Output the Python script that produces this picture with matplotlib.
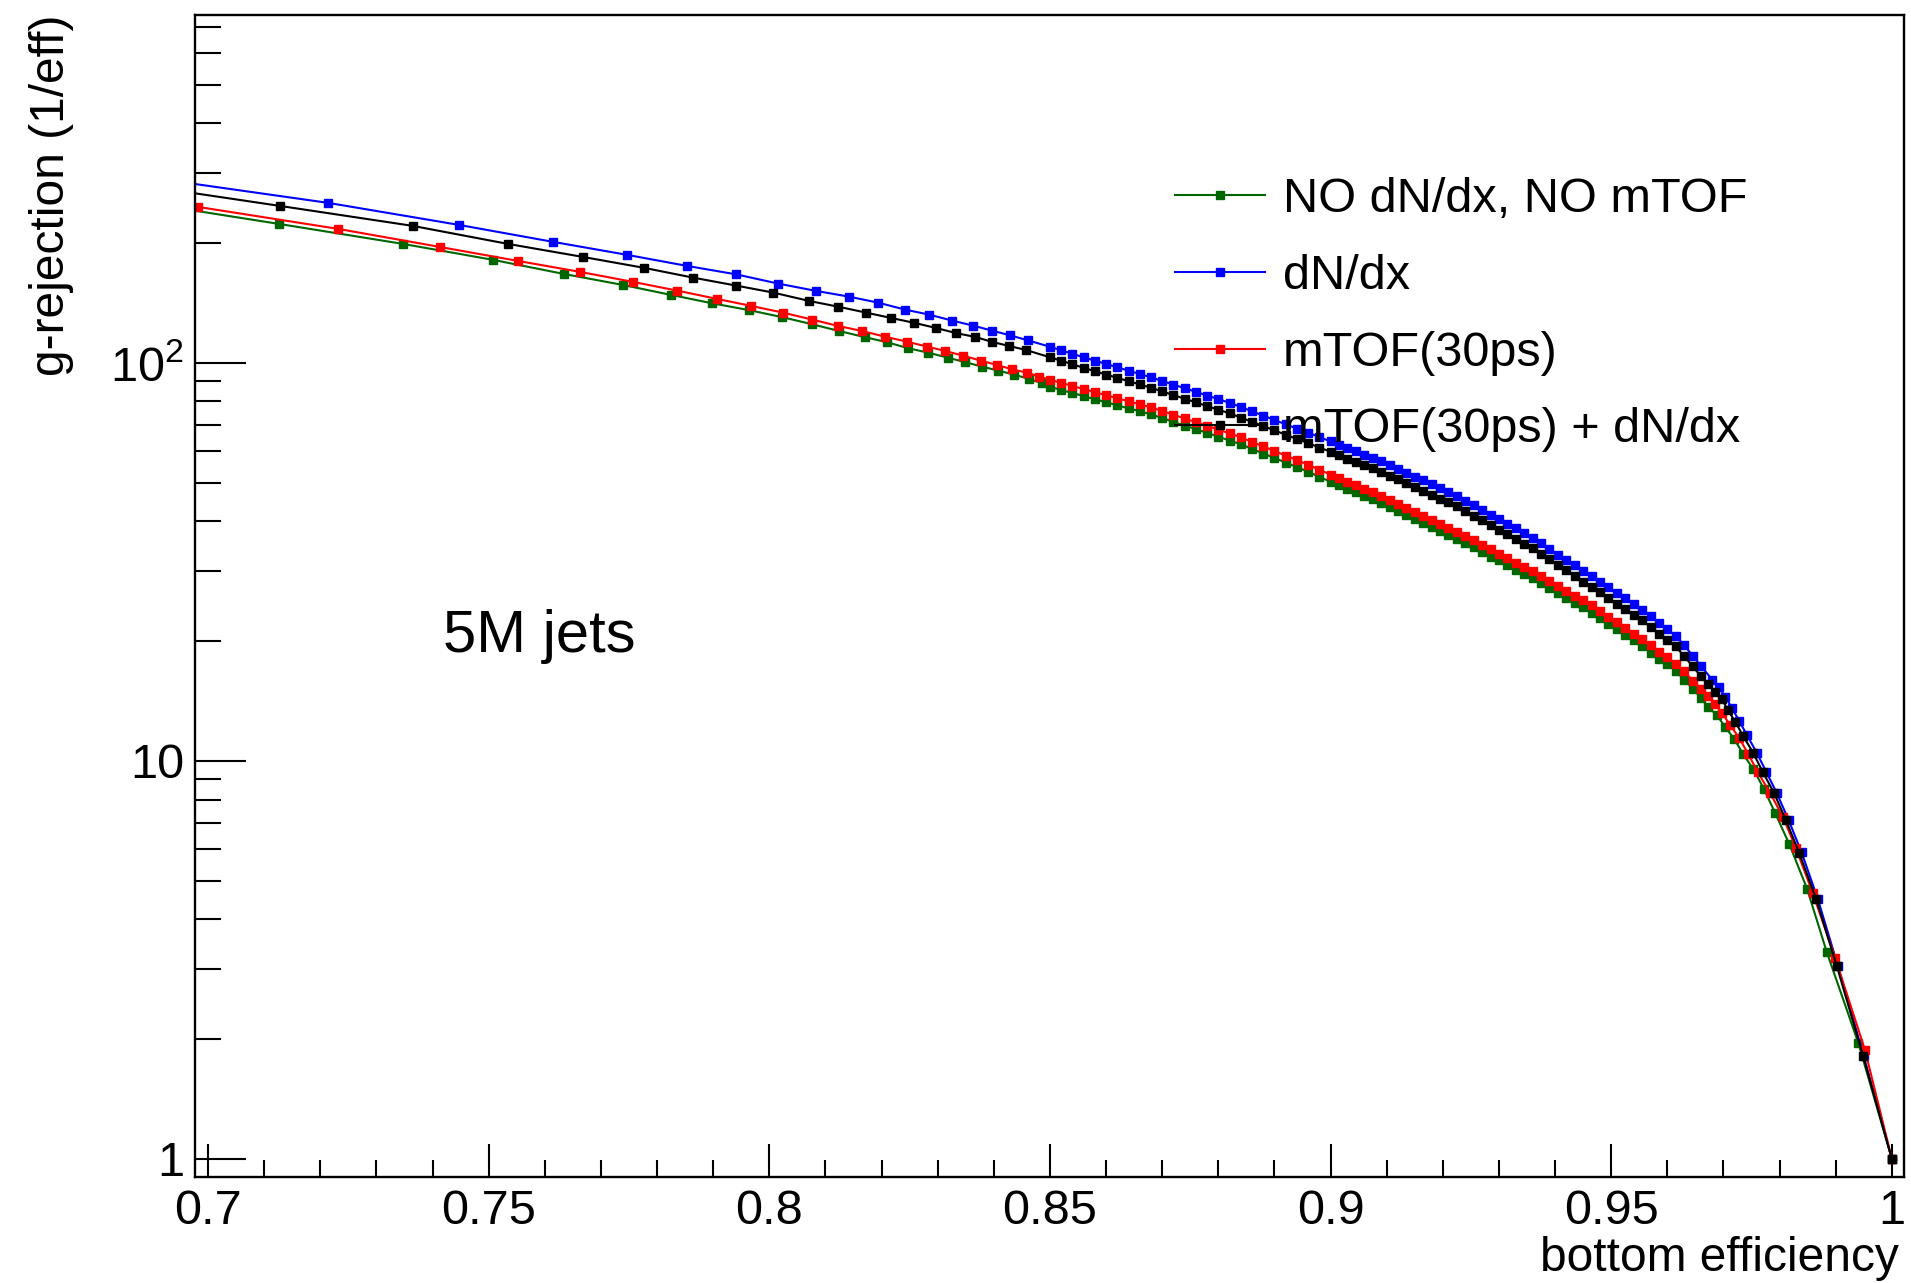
import matplotlib
matplotlib.use("Agg")
import matplotlib.pyplot as plt
from matplotlib.ticker import FixedLocator, FixedFormatter, LogLocator, NullFormatter

plt.rcParams['font.family'] = ['Liberation Sans', 'DejaVu Sans']
plt.rcParams['mathtext.default'] = 'regular'

labels = ["NO dN/dx, NO mTOF", "dN/dx", "mTOF(30ps)", "mTOF(30ps) + dN/dx"]
colors = ["#006600", "#0000ff", "#ff0000", "#000000"]

xticks = [0.7, 0.75, 0.8, 0.85, 0.9, 0.95, 1.0]
xtick_labels = ["0.7", "0.75", "0.8", "0.85", "0.9", "0.95", "1"]
yticks = [1, 10, 100]
ytick_labels = ["1", "10", "$10^{2}$"]

# efficiency points in the dense middle part (read at the same x for all curves)
eff_mid = [0.850, 0.852, 0.854, 0.856, 0.858, 0.860, 0.862, 0.864, 0.866, 0.868,
           0.870, 0.872, 0.874, 0.876, 0.878, 0.880, 0.882, 0.884, 0.886, 0.888,
           0.890, 0.892, 0.894, 0.896, 0.898, 0.900,
           0.9015, 0.903, 0.9045, 0.906, 0.9075, 0.909, 0.9105, 0.912, 0.9135, 0.915,
           0.9165, 0.918, 0.9195, 0.921, 0.9225, 0.924, 0.9255, 0.927, 0.9285, 0.930,
           0.9315, 0.933, 0.9345, 0.936, 0.9375, 0.939, 0.9405, 0.942, 0.9435, 0.945,
           0.9465, 0.948, 0.9495, 0.951, 0.9525, 0.954, 0.9555, 0.957, 0.9585, 0.960,
           0.9615, 0.963, 0.9645, 0.966]

# NO dN/dx, NO mTOF (green)
eff_left_g = [0.6900, 0.7126, 0.7347, 0.7508, 0.7634, 0.7739, 0.7825, 0.7898, 0.7964, 0.8023,
              0.8076, 0.8124, 0.8171, 0.8210, 0.8247, 0.8283, 0.8318, 0.8349, 0.8379, 0.8408,
              0.8436, 0.8463, 0.8486]
rej_left_g = [250.9, 223.5, 199.1, 181.5, 167.3, 157.0, 148.2, 141.2, 135.7, 130.3,
              125.1, 120.3, 116.0, 112.7, 108.9, 106.1, 103.1, 100.4, 97.9, 95.6,
              93.5, 91.1, 88.9]
rej_mid_g = [87.1, 85.5, 84.0, 82.6, 81.0, 79.7, 78.2, 76.9, 75.6, 74.2,
             72.7, 71.1, 69.6, 68.2, 66.7, 65.3, 63.8, 62.5, 60.8, 59.2,
             57.7, 56.2, 54.7, 53.3, 51.7, 50.3,
             49.3, 48.3, 47.3, 46.3, 45.4, 44.4, 43.4, 42.4, 41.5, 40.5,
             39.6, 38.7, 37.8, 37.0, 36.1, 35.2, 34.4, 33.5, 32.6, 31.9,
             31.0, 30.2, 29.5, 28.8, 28.0, 27.2, 26.4, 25.7, 25.0, 24.3,
             23.6, 22.8, 22.1, 21.4, 20.7, 20.1, 19.4, 18.7, 18.0, 17.5,
             16.8, 16.0, 15.2, 14.4]
eff_tail_g = [0.9672, 0.9688, 0.9703, 0.9719, 0.9735, 0.9753, 0.9772, 0.9792, 0.9817, 0.9849,
              0.9884, 0.9940, 1.0]
rej_tail_g = [13.67, 13.05, 12.17, 11.36, 10.41, 9.54, 8.51, 7.40, 6.19, 4.77,
              3.31, 1.96, 1.0]

# dN/dx (blue)
eff_left_b = [0.6900, 0.7214, 0.7447, 0.7615, 0.7747, 0.7853, 0.7941, 0.8016, 0.8083, 0.8142,
              0.8194, 0.8242, 0.8285, 0.8326, 0.8363, 0.8397, 0.8429, 0.8461]
rej_left_b = [291.6, 252.4, 222.2, 201.4, 186.8, 175.3, 166.9, 158.2, 151.7, 146.7,
              141.7, 136.1, 132.2, 127.7, 124.1, 120.5, 117.3, 113.9]
rej_mid_b = [109.8, 107.6, 105.4, 103.3, 101.3, 99.4, 97.5, 95.6, 93.8, 92.0,
             90.1, 88.2, 86.4, 84.6, 82.8, 81.1, 79.4, 77.5, 75.6, 73.7,
             71.9, 70.1, 68.4, 66.8, 65.1, 63.5,
             62.3, 61.1, 60.0, 58.8, 57.7, 56.6, 55.4, 54.2, 53.0, 51.8,
             50.7, 49.5, 48.5, 47.4, 46.3, 45.1, 43.9, 42.8, 41.6, 40.5,
             39.4, 38.4, 37.3, 36.3, 35.2, 34.1, 33.0, 32.0, 31.0, 30.0,
             29.1, 28.2, 27.3, 26.4, 25.6, 24.8, 24.0, 23.1, 22.2, 21.4,
             20.6, 19.5, 18.4, 17.3]
eff_tail_b = [0.9680, 0.9692, 0.9703, 0.9715, 0.9728, 0.9742, 0.9759, 0.9776, 0.9795, 0.9816,
              0.9839, 0.9868, 0.9904, 0.9950, 1.0]
rej_tail_b = [16.0, 15.3, 14.5, 13.6, 12.6, 11.6, 10.5, 9.4, 8.3, 7.1,
              5.9, 4.5, 3.05, 1.81, 1.0]

# mTOF(30ps) (red)
eff_left_r = [0.6900, 0.6982, 0.7232, 0.7413, 0.7552, 0.7663, 0.7757, 0.7836, 0.7907, 0.7967,
              0.8024, 0.8076, 0.8122, 0.8165, 0.8206, 0.8245, 0.8281, 0.8313, 0.8345, 0.8377,
              0.8406, 0.8432, 0.8459, 0.8481]
rej_left_r = [257.1, 246.6, 217.1, 195.6, 180.4, 169.3, 159.8, 151.9, 144.8, 139.1,
              133.8, 128.5, 123.9, 120.3, 116.4, 113.1, 109.9, 107.2, 104.3, 101.3,
              98.8, 96.4, 94.5, 92.4]
rej_mid_r = [90.7, 89.1, 87.5, 86.0, 84.4, 83.0, 81.5, 80.1, 78.7, 77.3,
             75.7, 74.1, 72.5, 71.0, 69.5, 68.0, 66.5, 65.1, 63.3, 61.7,
             60.1, 58.5, 57.0, 55.5, 53.9, 52.4,
             51.4, 50.3, 49.3, 48.2, 47.3, 46.3, 45.2, 44.2, 43.2, 42.2,
             41.2, 40.3, 39.4, 38.5, 37.6, 36.7, 35.8, 34.9, 34.0, 33.2,
             32.3, 31.5, 30.7, 30.0, 29.2, 28.3, 27.5, 26.8, 26.0, 25.3,
             24.6, 23.8, 23.0, 22.3, 21.6, 20.9, 20.2, 19.5, 18.8, 18.2,
             17.5, 16.8, 15.9, 15.2]
eff_tail_r = [0.9672, 0.9685, 0.9697, 0.9712, 0.9728, 0.9744, 0.9761, 0.9783, 0.9806, 0.9829,
              0.9859, 0.9899, 0.9952, 1.0]
rej_tail_r = [14.57, 13.91, 13.20, 12.31, 11.42, 10.41, 9.38, 8.31, 7.23, 6.04,
              4.66, 3.20, 1.88, 1.0]

# mTOF(30ps) + dN/dx (black)
eff_left_k = [0.6900, 0.7128, 0.7365, 0.7534, 0.7668, 0.7777, 0.7864, 0.7941, 0.8007, 0.8071,
              0.8122, 0.8172, 0.8217, 0.8258, 0.8297, 0.8333, 0.8367, 0.8397, 0.8427, 0.8457]
rej_left_k = [276.8, 248.0, 220.9, 199.1, 184.6, 173.3, 163.8, 156.4, 150.2, 143.1,
              138.5, 133.8, 129.7, 126.1, 122.4, 118.8, 116.2, 112.9, 110.3, 107.8]
rej_mid_k = [103.3, 101.3, 99.2, 97.2, 95.3, 93.5, 91.7, 90.0, 88.3, 86.6,
             84.8, 83.0, 81.3, 79.6, 77.9, 76.3, 74.7, 72.9, 71.1, 69.4,
             67.7, 66.0, 64.4, 62.9, 61.3, 59.8,
             58.6, 57.5, 56.5, 55.3, 54.3, 53.3, 52.1, 51.0, 49.9, 48.7,
             47.7, 46.6, 45.6, 44.6, 43.6, 42.4, 41.3, 40.3, 39.1, 38.1,
             37.1, 36.1, 35.1, 34.2, 33.1, 32.1, 31.1, 30.1, 29.2, 28.2,
             27.4, 26.5, 25.7, 24.8, 24.1, 23.3, 22.6, 21.7, 20.9, 20.1,
             19.4, 18.3, 17.3, 16.3]
eff_tail_k = [0.9673, 0.9685, 0.9697, 0.9708, 0.9721, 0.9735, 0.9753, 0.9770, 0.9790, 0.9811,
              0.9835, 0.9865, 0.9902, 0.9949, 1.0]
rej_tail_k = [15.64, 14.91, 14.31, 13.43, 12.53, 11.56, 10.47, 9.38, 8.31, 7.11,
              5.87, 4.50, 3.05, 1.81, 1.0]

series = [
    (eff_left_g + eff_mid + eff_tail_g, rej_left_g + rej_mid_g + rej_tail_g),
    (eff_left_b + eff_mid + eff_tail_b, rej_left_b + rej_mid_b + rej_tail_b),
    (eff_left_r + eff_mid + eff_tail_r, rej_left_r + rej_mid_r + rej_tail_r),
    (eff_left_k + eff_mid + eff_tail_k, rej_left_k + rej_mid_k + rej_tail_k),
]

fig = plt.figure(figsize=(19.11, 12.83), dpi=100)
ax = fig.add_axes([0.10204, 0.08262, 0.89430, 0.90600])

for (x, y), c, lab in zip(series, colors, labels):
    ax.plot(x, y, color=c, lw=1.5, marker='s', ms=5.7, mec=c, mfc=c, label=lab)

ax.set_yscale('log')
ax.set_xlim(0.69768, 1.00216)
ax.set_ylim(0.901, 750)

ax.xaxis.set_major_locator(FixedLocator(xticks))
ax.xaxis.set_major_formatter(FixedFormatter(xtick_labels))
ax.xaxis.set_minor_locator(FixedLocator([0.7 + 0.01 * i for i in range(31)]))
ax.yaxis.set_major_locator(FixedLocator(yticks))
ax.yaxis.set_major_formatter(FixedFormatter(ytick_labels))
ax.yaxis.set_minor_locator(LogLocator(base=10, subs=[2, 3, 4, 5, 6, 7, 8, 9]))
ax.yaxis.set_minor_formatter(NullFormatter())

ax.tick_params(which='both', direction='in', top=False, right=False, width=1.5, labelsize=35)
ax.tick_params(axis='x', which='major', length=24, pad=9)
ax.tick_params(axis='x', which='minor', length=12)
ax.tick_params(axis='y', which='major', length=37, pad=8)
ax.tick_params(axis='y', which='minor', length=19)
for s in ax.spines.values():
    s.set_linewidth(1.7)

ax.set_xlabel("bottom efficiency", fontsize=34.5, loc='right')
ax.set_ylabel("g-rejection (1/eff)", fontsize=34.5, loc='top')
ax.xaxis.set_label_coords(0.997, -0.051)
ax.yaxis.set_label_coords(-0.071, 1.0)

ax.text(0.7419, 18.8, "5M jets", fontsize=43, va='baseline', ha='left')

ax.legend(loc='upper left', bbox_to_anchor=(0.5734, 0.860), frameon=False, fontsize=35,
          handlelength=1.85, handletextpad=0.37, labelspacing=0.65, borderpad=0,
          borderaxespad=0, markerscale=0.9)

fig.savefig("out.png", dpi=100)
